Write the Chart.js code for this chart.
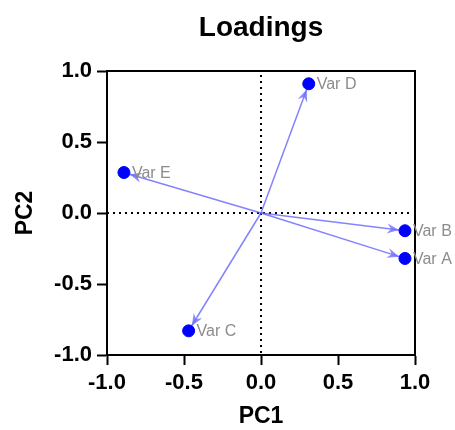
<!DOCTYPE html>
<html>
<head>
<meta charset="utf-8">
<script src="https://cdn.jsdelivr.net/npm/chart.js@4"></script>
<style>
  html, body { margin: 0; padding: 0; background: #fff; }
  #wrap { width: 455px; height: 430px; }
</style>
</head>
<body>
<div id="wrap"><canvas id="loadingsChart"></canvas></div>
<script>
const varNames = ["Var A", "Var B", "Var C", "Var D", "Var E"];
const pc1 = [0.935, 0.935, -0.47, 0.31, -0.89];
const pc2 = [-0.32, -0.125, -0.83, 0.91, 0.285];
const axisTicks = [-1.0, -0.5, 0.0, 0.5, 1.0];

const fontFamily = "'Liberation Sans', Arial, Helvetica, sans-serif";

// arrows from origin, dotted zero lines, frame, labels and title
const loadingsPlugin = {
  id: "loadings",
  beforeDatasetsDraw(chart) {
    const { ctx, chartArea, scales } = chart;
    const x0 = scales.x.getPixelForValue(0);
    const y0 = scales.y.getPixelForValue(0);
    ctx.save();
    ctx.strokeStyle = "#000";
    ctx.lineWidth = 2;
    ctx.setLineDash([2, 4]);
    ctx.beginPath();
    ctx.moveTo(x0, chartArea.top + 4);
    ctx.lineTo(x0, chartArea.bottom);
    ctx.moveTo(chartArea.left, y0);
    ctx.lineTo(chartArea.right - 2, y0);
    ctx.stroke();
    ctx.setLineDash([]);

    ctx.strokeStyle = "rgba(90, 90, 255, 0.75)";
    ctx.fillStyle = "rgba(110, 110, 255, 0.8)";
    ctx.lineWidth = 1.5;
    pc1.forEach((v, i) => {
      const px = scales.x.getPixelForValue(v);
      const py = scales.y.getPixelForValue(pc2[i]);
      const ang = Math.atan2(py - y0, px - x0);
      const tipX = px - Math.cos(ang) * 6;
      const tipY = py - Math.sin(ang) * 6;
      ctx.beginPath();
      ctx.moveTo(x0, y0);
      ctx.lineTo(tipX, tipY);
      ctx.stroke();
      const len = 12, half = 5;
      const bx = tipX - Math.cos(ang) * len;
      const by = tipY - Math.sin(ang) * len;
      ctx.beginPath();
      ctx.moveTo(tipX, tipY);
      ctx.lineTo(bx - Math.sin(ang) * half, by + Math.cos(ang) * half);
      ctx.lineTo(tipX - Math.cos(ang) * 8, tipY - Math.sin(ang) * 8);
      ctx.lineTo(bx + Math.sin(ang) * half, by - Math.cos(ang) * half);
      ctx.closePath();
      ctx.fill();
    });
    ctx.restore();
  },
  afterDraw(chart) {
    const { ctx, chartArea, scales } = chart;
    ctx.save();
    ctx.strokeStyle = "#000";
    ctx.lineWidth = 2;
    ctx.beginPath();
    ctx.moveTo(chartArea.left, chartArea.top);
    ctx.lineTo(chartArea.right, chartArea.top);
    ctx.lineTo(chartArea.right, chartArea.bottom);
    ctx.stroke();

    ctx.fillStyle = "#8c8c8c";
    ctx.font = "16px " + fontFamily;
    ctx.textBaseline = "middle";
    ctx.textAlign = "left";
    varNames.forEach((name, i) => {
      const px = scales.x.getPixelForValue(pc1[i]);
      const py = scales.y.getPixelForValue(pc2[i]);
      ctx.fillText(name, px + 8, py + 1);
    });

    ctx.fillStyle = "#000";
    ctx.font = "bold 28px " + fontFamily;
    ctx.textAlign = "center";
    ctx.textBaseline = "alphabetic";
    ctx.fillText("Loadings", (chartArea.left + chartArea.right) / 2, 36);
    ctx.restore();
  },
};

const ctx = document.getElementById("loadingsChart").getContext("2d");
new Chart(ctx, {
  type: "scatter",
  data: {
    datasets: [
      {
        label: "Loadings",
        data: pc1.map((v, i) => ({ x: v, y: pc2[i] })),
        backgroundColor: "#0000ff",
        borderColor: "#0000ff",
        pointRadius: 6,
        pointHoverRadius: 6,
      },
    ],
  },
  options: {
    responsive: true,
    maintainAspectRatio: false,
    animation: false,
    layout: {
      padding: { top: 71, right: 40, bottom: 0, left: 0 },
    },
    plugins: {
      legend: { display: false },
      tooltip: { enabled: false },
    },
    scales: {
      x: {
        type: "linear",
        min: -1,
        max: 1,
        afterFit: (scale) => {
          scale.height = 75;
        },
        afterBuildTicks: (scale) => {
          scale.ticks = axisTicks.map((v) => ({ value: v }));
        },
        ticks: {
          color: "#000",
          padding: 5,
          maxRotation: 0,
          font: { family: fontFamily, size: 22, weight: "bold" },
          callback: (v) => Number(v).toFixed(1),
        },
        grid: {
          drawOnChartArea: false,
          drawTicks: true,
          tickLength: 10,
          tickColor: "#000",
          tickWidth: 2,
        },
        border: { display: true, color: "#000", width: 2 },
        title: {
          display: true,
          text: "PC1",
          color: "#000",
          padding: { top: 0, bottom: 0 },
          font: { family: fontFamily, size: 23, weight: "bold" },
        },
      },
      y: {
        type: "linear",
        min: -1,
        max: 1,
        afterFit: (scale) => {
          scale.width = 107;
        },
        afterBuildTicks: (scale) => {
          scale.ticks = axisTicks.map((v) => ({ value: v }));
        },
        ticks: {
          color: "#000",
          padding: 5,
          font: { family: fontFamily, size: 22, weight: "bold" },
          callback: (v) => Number(v).toFixed(1),
        },
        grid: {
          drawOnChartArea: false,
          drawTicks: true,
          tickLength: 10,
          tickColor: "#000",
          tickWidth: 2,
        },
        border: { display: true, color: "#000", width: 2 },
        title: {
          display: true,
          text: "PC2",
          color: "#000",
          padding: { top: 12, bottom: 0 },
          font: { family: fontFamily, size: 23, weight: "bold" },
        },
      },
    },
  },
  plugins: [loadingsPlugin],
});
</script>
</body>
</html>
